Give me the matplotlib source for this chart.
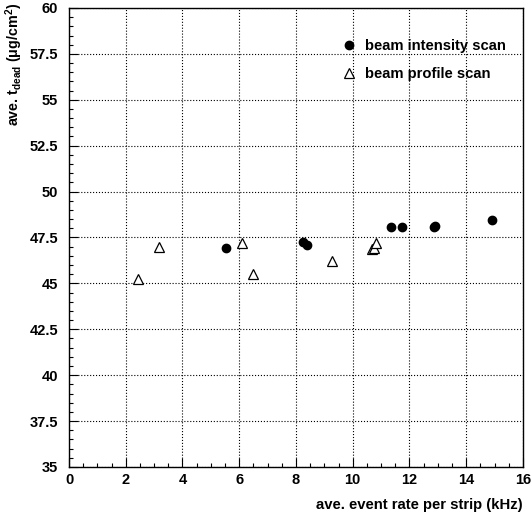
import numpy as np
import matplotlib.pyplot as plt
from matplotlib.ticker import MultipleLocator

plt.rcParams['font.family'] = ['Liberation Sans', 'DejaVu Sans']
plt.rcParams['font.weight'] = 'bold'
plt.rcParams['mathtext.fontset'] = 'custom'
plt.rcParams['mathtext.rm'] = 'Liberation Sans:bold'
plt.rcParams['mathtext.it'] = 'Liberation Sans:bold'
plt.rcParams['mathtext.default'] = 'rm'

# beam intensity scan
int_rate = [5.52, 8.26, 8.38, 11.34, 11.72, 12.88, 12.91, 14.90]
int_tdead = [46.91, 47.24, 47.09, 48.09, 48.09, 48.07, 48.15, 48.45]

# beam profile scan
prof_rate = [2.44, 3.17, 6.09, 6.50, 9.26, 10.67, 10.75, 10.82]
prof_tdead = [45.22, 46.97, 47.18, 45.53, 46.22, 46.87, 46.94, 47.18]

fig = plt.figure(figsize=(5.32, 5.18), dpi=100)
ax = fig.add_axes([0.1297, 0.0985, 0.8533, 0.8861])

ax.plot(int_rate, int_tdead, 'o', color='black', markersize=6,
        label='beam intensity scan')
ax.plot(prof_rate, prof_tdead, '^', markerfacecolor='white',
        markeredgecolor='black', markersize=7, markeredgewidth=0.9,
        label='beam profile scan')

ax.set_xlim(0, 16)
ax.set_ylim(35, 60)
ax.xaxis.set_major_locator(MultipleLocator(2))
ax.xaxis.set_minor_locator(MultipleLocator(0.5))
ax.yaxis.set_major_locator(MultipleLocator(2.5))
ax.yaxis.set_minor_locator(MultipleLocator(0.5))
ax.yaxis.set_major_formatter(plt.FuncFormatter(lambda v, p: f'{v:g}'))
ax.tick_params(which='both', direction='in', top=False, right=False,
               labelsize=10.5)
ax.tick_params(which='major', length=6.5, width=0.8)
ax.tick_params(which='minor', length=3, width=0.8)
ax.tick_params(axis='x', pad=4.5)
ax.tick_params(axis='y', pad=8)
ax.grid(True, which='major', linestyle=':', color='black', linewidth=0.8)
for lbl in ax.get_xticklabels() + ax.get_yticklabels():
    lbl.set_fontweight('bold')
for s in ax.spines.values():
    s.set_linewidth(1.0)

ax.set_xlabel('ave. event rate per strip (kHz)', fontsize=10.7,
              fontweight='bold', loc='right', labelpad=8)
ax.set_ylabel(r'ave. t$_{dead}$ ($\mu$g/cm$^{2}$)', fontsize=10.3,
              fontweight='bold', loc='top')
ax.yaxis.set_label_coords(-0.096, 1.011)

ax.legend(loc='upper right', bbox_to_anchor=(0.991, 0.961), frameon=False,
          handlelength=1.5, handletextpad=0.35, labelspacing=0.95,
          prop={'weight': 'bold', 'size': 10.6})

fig.savefig('out.png', dpi=100)
